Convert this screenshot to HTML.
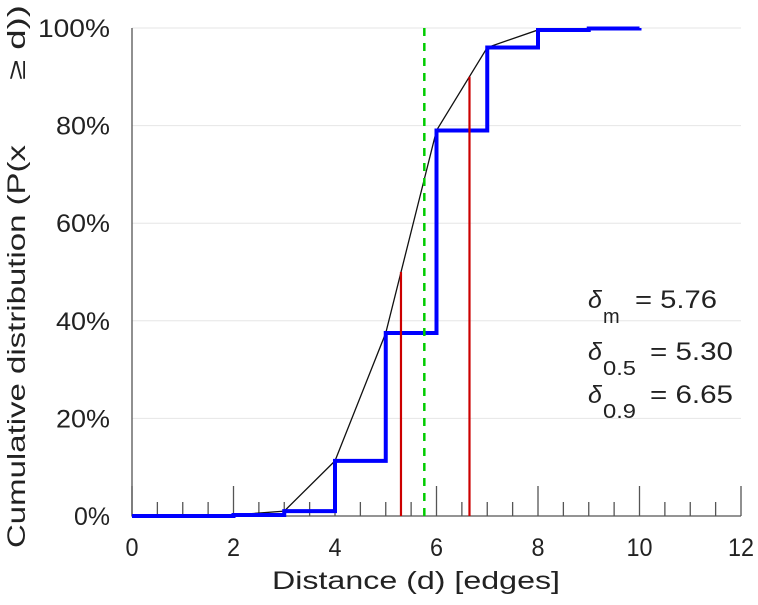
<!DOCTYPE html>
<html><head><meta charset="utf-8"><style>
body{margin:0;background:#fff;}
svg text{font-family:"Liberation Sans",sans-serif;fill:#222;}
</style></head><body>
<svg id="chart" width="758" height="600" xmlns="http://www.w3.org/2000/svg">
<g id="grid"></g><g id="axes"></g><g id="series"></g>
<text x="272" y="589" font-size="25" textLength="288" lengthAdjust="spacingAndGlyphs">Distance (d) [edges]</text>
<g font-size="25">
<text transform="translate(25,548) rotate(-90)" textLength="403" lengthAdjust="spacingAndGlyphs">Cumulative distribution (P(x</text>
<text transform="translate(25,80) rotate(-90)" textLength="75" lengthAdjust="spacingAndGlyphs">≥ d))</text>
</g>
<g font-size="25">
<text x="588" y="308" font-style="italic">δ</text><text x="603" y="323" font-size="20">m</text><text x="635" y="308" textLength="82" lengthAdjust="spacingAndGlyphs">= 5.76</text>
<text x="588" y="360" font-style="italic">δ</text><text x="603" y="375" font-size="20" textLength="33" lengthAdjust="spacingAndGlyphs">0.5</text><text x="650" y="360" textLength="83" lengthAdjust="spacingAndGlyphs">= 5.30</text>
<text x="588" y="403" font-style="italic">δ</text><text x="603" y="418" font-size="20" textLength="33" lengthAdjust="spacingAndGlyphs">0.9</text><text x="650" y="403" textLength="83" lengthAdjust="spacingAndGlyphs">= 6.65</text>
</g>
</svg>
<script>
const stepX=[0,1,2,3,4,5,6,7,8,9,10];
const stepY=[0,0,0.2,1,11.3,37.5,79,96,99.6,99.9,100];
const medianLine=5.30, meanLine=5.76, p90Line=6.65;
const xTicks=[0,2,4,6,8,10,12];
const yTicks=[0,20,40,60,80,100];
const NS="http://www.w3.org/2000/svg";
const X=v=>132+v*(741-132)/12, Y=v=>516-v*(516-28)/100;
function mk(p,tag,a){const e=document.createElementNS(NS,tag);for(const k in a)e.setAttribute(k,a[k]);document.getElementById(p).appendChild(e);return e;}
yTicks.forEach(t=>{
 if(t>0){const g=mk('grid','line',{x1:X(0),x2:X(12),y1:Y(t),y2:Y(t),stroke:'#e6e6e6','stroke-width':1});
 
 }
 const s=t+'%';
 const l=mk('axes','text',{x:110-s.length*18,y:Y(t)+9,'font-size':25,textLength:s.length*18,lengthAdjust:'spacingAndGlyphs'});l.textContent=s;
 
 
});
for(let v=0;v<=12;v+=0.5){
 const major=(v%2===0);
 const t=mk('axes','line',{x1:X(v),x2:X(v),y1:516,y2:major?486:502,stroke:'#555','stroke-width':1.3});
 
 
}
xTicks.forEach(t=>{const s=String(t);const w=s.length*13;
 const l=mk('axes','text',{x:X(t)-w/2,y:556,'font-size':25,textLength:w,lengthAdjust:'spacingAndGlyphs'});l.textContent=s;
 
 });
const ax=mk('axes','path',{d:`M${X(0)},${Y(100)} L${X(0)},516 L${X(12)},516`,fill:'none',stroke:'#555','stroke-width':1.3});


let d='';stepX.forEach((x,i)=>{d+=(i?'L':'M')+X(x)+','+Y(stepY[i]);});
const bl=mk('series','path',{d:d,fill:'none',stroke:'#111','stroke-width':1.3});


let s='M'+X(stepX[0])+','+Y(stepY[0]);
for(let i=1;i<stepX.length;i++){s+=' L'+X(stepX[i])+','+Y(stepY[i-1])+' L'+X(stepX[i])+','+Y(stepY[i]);}
const st=mk('series','path',{d:s,fill:'none',stroke:'#0000ff','stroke-width':4});


const r1=mk('series','line',{x1:X(medianLine),x2:X(medianLine),y1:516,y2:Y(50),stroke:'#cc0000','stroke-width':2.2});


const r2=mk('series','line',{x1:X(p90Line),x2:X(p90Line),y1:516,y2:Y(90),stroke:'#cc0000','stroke-width':2.2});


const g1=mk('series','line',{x1:X(meanLine),x2:X(meanLine),y1:516,y2:Y(100),stroke:'#00cc00','stroke-width':2.5,'stroke-dasharray':'8,7'});


</script>
</body></html>
